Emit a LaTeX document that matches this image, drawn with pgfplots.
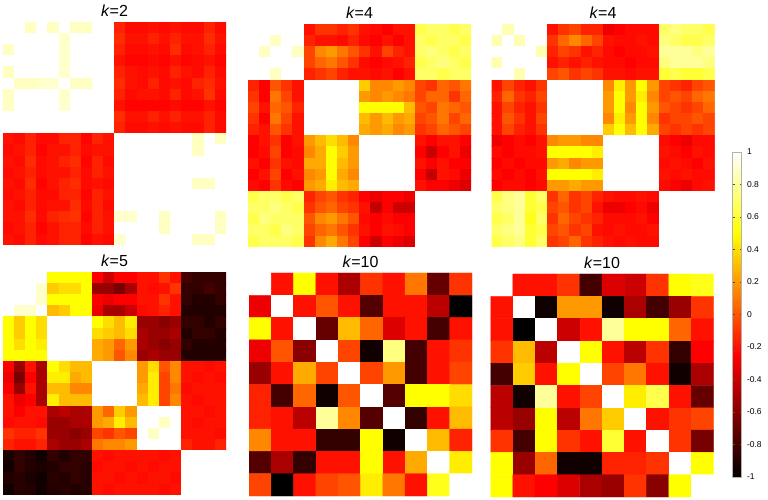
\documentclass[border=0pt]{standalone}
\usepackage{fontspec}
\setmainfont{Liberation Sans}
\usepackage{pgfplots}
\pgfplotsset{compat=1.18}
\pgfplotsset{
  colormap={hotm}{rgb255(0pt)=(0,0,0) rgb255(3pt)=(255,0,0) rgb255(6pt)=(255,255,0) rgb255(8pt)=(255,255,255)},
  hm/.style={hide axis, scale only axis, width=223pt, height=223pt, anchor=north west,
    y dir=reverse, colormap name=hotm, point meta min=-1, point meta max=1,
    title style={font=\fontsize{16}{18}\selectfont, at={(0.5,1)}, anchor=base, yshift=-1pt, inner sep=0pt}},
  hm20/.style={hm, xmin=-0.5, xmax=19.5, ymin=-0.5, ymax=19.5},
  hm10/.style={hm, xmin=-0.5, xmax=9.5, ymin=-0.5, ymax=9.5},
  m20/.style={matrix plot*, mesh/cols=20, point meta=explicit},
  m10/.style={matrix plot*, mesh/cols=10, point meta=explicit},
  table/t20/.style={row sep=\\, x expr={\coordindex-20*floor((\coordindex+0.5)/20)}, y expr={floor((\coordindex+0.5)/20)}, meta=c},
  table/t10/.style={row sep=\\, x expr={\coordindex-10*floor((\coordindex+0.5)/10)}, y expr={floor((\coordindex+0.5)/10)}, meta=c},
}
\begin{document}
\begin{tikzpicture}
\path[use as bounding box] (0,0) rectangle (768pt,500pt);
% ---------------- k=2
\begin{axis}[hm20, at={(3pt,478pt)}, title={\textit{k}=2}]
\addplot[m20] table[t20] {c\\
1\\ 1\\ 0.88\\ 1\\ 0.88\\ 1\\ 0.88\\ 0.88\\ 1\\ 1\\ -0.15\\ -0.22\\ -0.22\\ -0.2\\ -0.22\\ -0.2\\ -0.22\\ -0.22\\ -0.15\\ -0.22\\
1\\ 1\\ 1\\ 1\\ 1\\ 0.9\\ 1\\ 1\\ 1\\ 1\\ -0.12\\ -0.2\\ -0.2\\ -0.15\\ -0.2\\ -0.15\\ -0.2\\ -0.2\\ -0.12\\ -0.2\\
0.88\\ 1\\ 1\\ 1\\ 1\\ 0.9\\ 1\\ 1\\ 1\\ 1\\ -0.15\\ -0.22\\ -0.22\\ -0.2\\ -0.22\\ -0.12\\ -0.22\\ -0.2\\ -0.15\\ -0.22\\
1\\ 1\\ 1\\ 1\\ 1\\ 0.9\\ 1\\ 1\\ 1\\ 1\\ -0.2\\ -0.24\\ -0.24\\ -0.22\\ -0.24\\ -0.2\\ -0.24\\ -0.22\\ -0.2\\ -0.24\\
0.88\\ 1\\ 1\\ 1\\ 1\\ 0.9\\ 1\\ 1\\ 1\\ 1\\ -0.15\\ -0.2\\ -0.22\\ -0.2\\ -0.22\\ -0.15\\ -0.2\\ -0.22\\ -0.15\\ -0.22\\
1\\ 0.88\\ 0.88\\ 0.9\\ 0.9\\ 1\\ 0.88\\ 0.88\\ 1\\ 1\\ -0.12\\ -0.2\\ -0.22\\ -0.15\\ -0.22\\ -0.2\\ -0.22\\ -0.15\\ -0.12\\ -0.2\\
0.88\\ 1\\ 1\\ 1\\ 1\\ 0.9\\ 1\\ 1\\ 1\\ 1\\ -0.15\\ -0.22\\ -0.2\\ -0.2\\ -0.22\\ -0.15\\ -0.22\\ -0.2\\ -0.1\\ -0.22\\
0.88\\ 1\\ 1\\ 1\\ 1\\ 0.9\\ 1\\ 1\\ 1\\ 1\\ -0.2\\ -0.24\\ -0.24\\ -0.24\\ -0.24\\ -0.22\\ -0.24\\ -0.24\\ -0.2\\ -0.24\\
1\\ 1\\ 1\\ 1\\ 1\\ 1\\ 1\\ 1\\ 1\\ 1\\ -0.12\\ -0.2\\ -0.2\\ -0.15\\ -0.2\\ -0.15\\ -0.2\\ -0.2\\ -0.15\\ -0.22\\
1\\ 1\\ 1\\ 1\\ 1\\ 1\\ 1\\ 1\\ 1\\ 1\\ -0.15\\ -0.22\\ -0.22\\ -0.2\\ -0.22\\ -0.2\\ -0.22\\ -0.22\\ -0.15\\ -0.22\\
-0.2\\ -0.22\\ -0.15\\ -0.22\\ -0.22\\ -0.15\\ -0.15\\ -0.24\\ -0.15\\ -0.2\\ 1\\ 1\\ 1\\ 1\\ 1\\ 1\\ 1\\ 0.88\\ 1\\ 0.88\\
-0.22\\ -0.2\\ -0.15\\ -0.24\\ -0.2\\ -0.2\\ -0.15\\ -0.22\\ -0.2\\ -0.2\\ 1\\ 1\\ 1\\ 1\\ 1\\ 1\\ 1\\ 0.88\\ 1\\ 1\\
-0.2\\ -0.22\\ -0.12\\ -0.22\\ -0.2\\ -0.15\\ -0.12\\ -0.24\\ -0.15\\ -0.22\\ 1\\ 1\\ 1\\ 1\\ 1\\ 1\\ 1\\ 1\\ 1\\ 1\\
-0.22\\ -0.2\\ -0.15\\ -0.22\\ -0.2\\ -0.2\\ -0.15\\ -0.22\\ -0.15\\ -0.2\\ 1\\ 1\\ 1\\ 1\\ 1\\ 1\\ 1\\ 1\\ 1\\ 1\\
-0.2\\ -0.22\\ -0.12\\ -0.24\\ -0.2\\ -0.15\\ -0.12\\ -0.22\\ -0.2\\ -0.22\\ 1\\ 1\\ 1\\ 1\\ 1\\ 1\\ 1\\ 0.88\\ 0.88\\ 1\\
-0.22\\ -0.2\\ -0.15\\ -0.22\\ -0.22\\ -0.15\\ -0.15\\ -0.24\\ -0.15\\ -0.2\\ 1\\ 1\\ 1\\ 1\\ 1\\ 1\\ 1\\ 1\\ 1\\ 1\\
-0.2\\ -0.22\\ -0.15\\ -0.22\\ -0.2\\ -0.2\\ -0.12\\ -0.22\\ -0.15\\ -0.22\\ 1\\ 1\\ 1\\ 1\\ 1\\ 1\\ 1\\ 1\\ 1\\ 1\\
-0.2\\ -0.2\\ -0.12\\ -0.22\\ -0.15\\ -0.12\\ -0.1\\ -0.24\\ -0.15\\ -0.2\\ 0.9\\ 0.9\\ 1\\ 1\\ 0.88\\ 1\\ 1\\ 1\\ 1\\ 0.88\\
-0.22\\ -0.2\\ -0.15\\ -0.24\\ -0.2\\ -0.15\\ -0.15\\ -0.22\\ -0.15\\ -0.2\\ 1\\ 1\\ 1\\ 1\\ 0.88\\ 1\\ 1\\ 1\\ 1\\ 0.88\\
-0.2\\ -0.22\\ -0.15\\ -0.22\\ -0.2\\ -0.15\\ -0.15\\ -0.24\\ -0.2\\ -0.22\\ 0.9\\ 1\\ 1\\ 1\\ 1\\ 1\\ 1\\ 0.88\\ 0.88\\ 1\\
};
\end{axis}
% ---------------- k=4 (a)
\begin{axis}[hm20, at={(248pt,476pt)}, title={\textit{k}=4}]
\addplot[m20] table[t20] {c\\
1\\ 1\\ 1\\ 1\\ 1\\ -0.2\\ -0.1\\ -0.1\\ -0.15\\ -0.1\\ -0.2\\ -0.22\\ -0.25\\ -0.2\\ -0.2\\ 0.65\\ 0.7\\ 0.7\\ 0.65\\ 0.7\\
1\\ 1\\ 0.88\\ 1\\ 1\\ -0.15\\ -0.2\\ -0.2\\ -0.22\\ -0.15\\ -0.22\\ -0.25\\ -0.2\\ -0.25\\ -0.2\\ 0.7\\ 0.65\\ 0.7\\ 0.7\\ 0.65\\
1\\ 0.88\\ 1\\ 1\\ 0.88\\ -0.05\\ 0.15\\ 0.2\\ 0.1\\ 0\\ -0.1\\ -0.2\\ -0.05\\ -0.15\\ -0.2\\ 0.7\\ 0.75\\ 0.7\\ 0.65\\ 0.7\\
1\\ 1\\ 1\\ 1\\ 1\\ -0.05\\ 0.05\\ 0.1\\ 0\\ -0.1\\ -0.22\\ -0.25\\ -0.22\\ -0.2\\ -0.15\\ 0.65\\ 0.7\\ 0.75\\ 0.7\\ 0.65\\
1\\ 1\\ 0.88\\ 1\\ 1\\ -0.15\\ -0.1\\ -0.05\\ -0.15\\ -0.2\\ -0.2\\ -0.22\\ -0.2\\ -0.25\\ -0.2\\ 0.7\\ 0.7\\ 0.65\\ 0.7\\ 0.7\\
-0.15\\ -0.25\\ 0\\ -0.1\\ -0.2\\ 1\\ 1\\ 1\\ 1\\ 1\\ 0.35\\ 0.15\\ 0.15\\ 0.2\\ 0.15\\ -0.05\\ -0.1\\ 0.05\\ 0\\ 0.1\\
-0.1\\ -0.25\\ 0.1\\ -0.05\\ -0.2\\ 1\\ 1\\ 1\\ 1\\ 1\\ 0.2\\ 0.15\\ 0.2\\ 0.15\\ 0.1\\ -0.05\\ 0.05\\ 0.05\\ -0.1\\ 0.05\\
-0.05\\ -0.2\\ 0.05\\ 0\\ -0.15\\ 1\\ 1\\ 1\\ 1\\ 1\\ 0.5\\ 0.5\\ 0.5\\ 0.5\\ 0.3\\ 0\\ -0.05\\ 0.1\\ 0.05\\ 0\\
-0.1\\ -0.25\\ 0.1\\ -0.05\\ -0.2\\ 1\\ 1\\ 1\\ 1\\ 1\\ 0.3\\ 0.2\\ 0.3\\ 0.2\\ 0.25\\ -0.05\\ 0\\ 0.1\\ -0.05\\ 0.05\\
-0.15\\ -0.2\\ 0\\ -0.1\\ -0.2\\ 1\\ 1\\ 1\\ 1\\ 1\\ 0.25\\ 0.2\\ 0.25\\ 0.15\\ 0.2\\ -0.1\\ -0.05\\ 0.05\\ 0\\ -0.05\\
-0.25\\ -0.2\\ -0.1\\ -0.25\\ -0.2\\ 0.2\\ 0.3\\ 0.4\\ 0.3\\ 0.15\\ 1\\ 1\\ 1\\ 1\\ 1\\ -0.2\\ -0.25\\ -0.2\\ -0.2\\ -0.25\\
-0.25\\ -0.22\\ -0.05\\ -0.25\\ -0.22\\ 0.15\\ 0.25\\ 0.5\\ 0.35\\ 0.2\\ 1\\ 1\\ 1\\ 1\\ 1\\ -0.25\\ -0.4\\ -0.25\\ -0.2\\ -0.3\\
-0.2\\ -0.25\\ -0.1\\ -0.2\\ -0.22\\ 0.25\\ 0.25\\ 0.5\\ 0.3\\ 0.2\\ 1\\ 1\\ 1\\ 1\\ 1\\ -0.2\\ -0.25\\ -0.2\\ -0.25\\ -0.25\\
-0.25\\ -0.2\\ -0.05\\ -0.25\\ -0.2\\ 0.15\\ 0.2\\ 0.5\\ 0.25\\ 0.15\\ 1\\ 1\\ 1\\ 1\\ 1\\ -0.25\\ -0.42\\ -0.2\\ -0.22\\ -0.3\\
-0.22\\ -0.25\\ -0.1\\ -0.22\\ -0.25\\ 0.2\\ 0.25\\ 0.45\\ 0.3\\ 0.25\\ 1\\ 1\\ 1\\ 1\\ 1\\ -0.2\\ -0.25\\ -0.25\\ -0.3\\ -0.35\\
0.65\\ 0.7\\ 0.7\\ 0.65\\ 0.7\\ -0.15\\ -0.05\\ 0\\ -0.1\\ -0.15\\ -0.25\\ -0.3\\ -0.25\\ -0.25\\ -0.3\\ 1\\ 1\\ 1\\ 1\\ 1\\
0.7\\ 0.7\\ 0.75\\ 0.7\\ 0.65\\ -0.1\\ 0\\ 0.05\\ -0.05\\ -0.1\\ -0.2\\ -0.42\\ -0.25\\ -0.4\\ -0.4\\ 1\\ 1\\ 1\\ 1\\ 1\\
0.65\\ 0.75\\ 0.7\\ 0.7\\ 0.7\\ 0\\ 0.15\\ 0.2\\ 0.1\\ 0\\ -0.22\\ -0.25\\ -0.22\\ -0.25\\ -0.25\\ 1\\ 1\\ 1\\ 1\\ 1\\
0.7\\ 0.7\\ 0.65\\ 0.75\\ 0.7\\ -0.05\\ 0.05\\ 0.1\\ 0\\ -0.1\\ -0.2\\ -0.25\\ -0.2\\ -0.22\\ -0.25\\ 1\\ 1\\ 1\\ 1\\ 1\\
0.65\\ 0.7\\ 0.7\\ 0.7\\ 0.65\\ -0.1\\ 0.15\\ 0.25\\ 0.1\\ -0.05\\ -0.25\\ -0.4\\ -0.25\\ -0.3\\ -0.35\\ 1\\ 1\\ 1\\ 1\\ 1\\
};
\end{axis}
% ---------------- k=4 (b)
\begin{axis}[hm20, at={(491.5pt,476pt)}, title={\textit{k}=4},
  colorbar,
  colorbar style={at={(parent axis.north east)}, anchor=north west, xshift=9.5pt, yshift=-128pt,
    scale only axis, width=9pt, height=325pt,
    ytick={-1,-0.8,-0.6,-0.4,-0.2,0,0.2,0.4,0.6,0.8,1},
    yticklabel style={font=\fontsize{8.5}{9}\selectfont, /pgf/number format/assume math mode=true, xshift=2pt},
    axis line style={draw=gray!60}, tick align=inside, major tick length=2pt,
    ytick style={draw=gray!60!black}}]
\addplot[m20] table[t20] {c\\
1\\ 0.85\\ 1\\ 1\\ 1\\ -0.2\\ -0.1\\ -0.05\\ -0.15\\ -0.15\\ -0.3\\ -0.25\\ -0.22\\ -0.22\\ -0.22\\ 0.7\\ 0.75\\ 0.7\\ 0.7\\ 0.65\\
0.85\\ 1\\ 0.85\\ 1\\ 1\\ -0.1\\ 0.05\\ 0.15\\ 0.05\\ -0.05\\ -0.2\\ -0.22\\ -0.22\\ -0.2\\ -0.22\\ 0.75\\ 0.7\\ 0.65\\ 0.65\\ 0.7\\
1\\ 1\\ 1\\ 1\\ 0.85\\ -0.15\\ -0.05\\ -0.1\\ -0.2\\ -0.15\\ -0.22\\ -0.25\\ -0.22\\ -0.22\\ -0.2\\ 0.8\\ 0.8\\ 0.8\\ 0.75\\ 0.8\\
0.85\\ 1\\ 1\\ 1\\ 1\\ -0.2\\ -0.15\\ -0.2\\ -0.15\\ -0.2\\ -0.22\\ -0.22\\ -0.25\\ -0.22\\ -0.22\\ 0.75\\ 0.8\\ 0.8\\ 0.8\\ 0.75\\
1\\ 1\\ 0.85\\ 1\\ 1\\ -0.05\\ 0\\ -0.1\\ -0.05\\ -0.1\\ -0.2\\ -0.2\\ -0.22\\ -0.2\\ -0.2\\ 0.6\\ 0.65\\ 0.6\\ 0.6\\ 0.65\\
-0.2\\ -0.05\\ -0.15\\ -0.2\\ -0.1\\ 1\\ 1\\ 1\\ 1\\ 1\\ 0.15\\ 0.45\\ 0.2\\ 0.5\\ 0.2\\ -0.05\\ -0.1\\ -0.15\\ -0.05\\ 0\\
-0.15\\ 0.05\\ -0.1\\ -0.15\\ -0.05\\ 1\\ 1\\ 1\\ 1\\ 1\\ 0.2\\ 0.5\\ 0.2\\ 0.45\\ 0.15\\ -0.05\\ 0\\ -0.05\\ 0.05\\ 0.1\\
-0.2\\ -0.05\\ -0.15\\ -0.2\\ -0.1\\ 1\\ 1\\ 1\\ 1\\ 1\\ 0.2\\ 0.5\\ 0.15\\ 0.5\\ 0.2\\ 0\\ -0.05\\ -0.1\\ -0.05\\ 0.05\\
-0.2\\ 0\\ -0.1\\ -0.2\\ -0.05\\ 1\\ 1\\ 1\\ 1\\ 1\\ 0.15\\ 0.45\\ 0.2\\ 0.5\\ 0.15\\ -0.1\\ -0.05\\ -0.05\\ 0\\ -0.05\\
-0.2\\ -0.05\\ -0.15\\ -0.2\\ -0.1\\ 1\\ 1\\ 1\\ 1\\ 1\\ 0.35\\ 0.5\\ 0.3\\ 0.5\\ 0.25\\ -0.05\\ -0.1\\ -0.05\\ -0.1\\ -0.05\\
-0.3\\ -0.25\\ -0.22\\ -0.25\\ -0.2\\ 0.15\\ 0.2\\ 0.2\\ 0.15\\ 0.15\\ 1\\ 1\\ 1\\ 1\\ 1\\ -0.22\\ -0.25\\ -0.3\\ -0.22\\ -0.22\\
-0.22\\ -0.25\\ -0.22\\ -0.22\\ -0.2\\ 0.5\\ 0.5\\ 0.5\\ 0.5\\ 0.45\\ 1\\ 1\\ 1\\ 1\\ 1\\ -0.2\\ -0.22\\ -0.25\\ -0.2\\ -0.22\\
-0.25\\ -0.22\\ -0.25\\ -0.22\\ -0.22\\ 0.2\\ 0.25\\ 0.15\\ 0.2\\ 0.2\\ 1\\ 1\\ 1\\ 1\\ 1\\ -0.22\\ -0.2\\ -0.22\\ -0.25\\ -0.2\\
-0.22\\ -0.25\\ -0.22\\ -0.25\\ -0.2\\ 0.5\\ 0.5\\ 0.5\\ 0.5\\ 0.45\\ 1\\ 1\\ 1\\ 1\\ 1\\ -0.2\\ -0.22\\ -0.2\\ -0.22\\ -0.22\\
-0.25\\ -0.22\\ -0.22\\ -0.25\\ -0.22\\ 0.2\\ 0.2\\ 0.25\\ 0.2\\ 0.2\\ 1\\ 1\\ 1\\ 1\\ 1\\ -0.22\\ -0.25\\ -0.3\\ -0.22\\ -0.2\\
0.65\\ 0.75\\ 0.8\\ 0.6\\ 0.7\\ -0.1\\ 0.05\\ -0.1\\ -0.05\\ -0.15\\ -0.2\\ -0.22\\ -0.22\\ -0.2\\ -0.22\\ 1\\ 1\\ 1\\ 1\\ 1\\
0.7\\ 0.75\\ 0.8\\ 0.6\\ 0.65\\ -0.05\\ 0\\ -0.1\\ -0.05\\ -0.2\\ -0.3\\ -0.3\\ -0.25\\ -0.22\\ -0.3\\ 1\\ 1\\ 1\\ 1\\ 1\\
0.65\\ 0.7\\ 0.8\\ 0.55\\ 0.7\\ -0.1\\ 0.05\\ -0.05\\ -0.1\\ -0.15\\ -0.22\\ -0.22\\ -0.22\\ -0.2\\ -0.25\\ 1\\ 1\\ 1\\ 1\\ 1\\
0.7\\ 0.75\\ 0.8\\ 0.6\\ 0.65\\ -0.05\\ 0\\ -0.1\\ -0.05\\ -0.2\\ -0.22\\ -0.2\\ -0.22\\ -0.22\\ -0.2\\ 1\\ 1\\ 1\\ 1\\ 1\\
0.65\\ 0.7\\ 0.75\\ 0.6\\ 0.7\\ -0.1\\ -0.05\\ 0.05\\ -0.1\\ -0.15\\ -0.2\\ -0.22\\ -0.2\\ -0.22\\ -0.22\\ 1\\ 1\\ 1\\ 1\\ 1\\
};
\end{axis}
% ---------------- k=5
\begin{axis}[hm20, at={(3pt,228pt)}, title={\textit{k}=5}]
\addplot[m20] table[t20] {c\\
1\\ 1\\ 1\\ 1\\ 0.5\\ 0.5\\ 0.5\\ 0.5\\ -0.25\\ -0.4\\ -0.25\\ -0.25\\ -0.2\\ -0.2\\ -0.1\\ -0.2\\ -0.8\\ -0.85\\ -0.85\\ -0.85\\
1\\ 1\\ 1\\ 0.9\\ 0.35\\ 0.4\\ 0.4\\ 0.5\\ -0.55\\ -0.55\\ -0.65\\ -0.5\\ -0.2\\ -0.22\\ -0.2\\ -0.1\\ -0.85\\ -0.85\\ -0.8\\ -0.85\\
1\\ 1\\ 1\\ 0.9\\ 0.5\\ 0.5\\ 0.5\\ 0.5\\ -0.25\\ -0.3\\ -0.25\\ -0.25\\ -0.2\\ -0.2\\ -0.1\\ -0.2\\ -0.85\\ -0.9\\ -0.9\\ -0.85\\
1\\ 0.9\\ 0.9\\ 1\\ 0.3\\ 0.35\\ 0.5\\ 0.5\\ -0.3\\ -0.5\\ -0.5\\ -0.4\\ -0.22\\ -0.2\\ -0.15\\ -0.2\\ -0.9\\ -0.9\\ -0.9\\ -0.9\\
0.5\\ 0.35\\ 0.5\\ 0.4\\ 1\\ 1\\ 1\\ 1\\ 0.5\\ 0.4\\ 0.3\\ 0.45\\ -0.55\\ -0.55\\ -0.6\\ -0.55\\ -0.85\\ -0.85\\ -0.9\\ -0.85\\
0.5\\ 0.35\\ 0.5\\ 0.4\\ 1\\ 1\\ 1\\ 1\\ 0.4\\ 0.35\\ 0.3\\ 0.4\\ -0.5\\ -0.55\\ -0.55\\ -0.5\\ -0.9\\ -0.85\\ -0.85\\ -0.9\\
0.5\\ 0.4\\ 0.5\\ 0.45\\ 1\\ 1\\ 1\\ 1\\ 0.25\\ 0.2\\ 0.05\\ 0.2\\ -0.5\\ -0.55\\ -0.6\\ -0.55\\ -0.85\\ -0.9\\ -0.9\\ -0.9\\
0.5\\ 0.5\\ 0.5\\ 0.5\\ 1\\ 1\\ 1\\ 1\\ 0.25\\ 0.2\\ 0\\ 0.15\\ -0.55\\ -0.5\\ -0.55\\ -0.55\\ -0.9\\ -0.9\\ -0.9\\ -0.9\\
-0.25\\ -0.55\\ -0.2\\ -0.5\\ 0.5\\ 0.4\\ 0.3\\ 0.3\\ 1\\ 1\\ 1\\ 1\\ 0.2\\ 0.4\\ 0\\ 0.15\\ -0.2\\ -0.2\\ -0.22\\ -0.2\\
-0.3\\ -0.65\\ -0.25\\ -0.5\\ 0.45\\ 0.45\\ 0.25\\ 0.3\\ 1\\ 1\\ 1\\ 1\\ 0.2\\ 0.45\\ -0.05\\ 0.15\\ -0.2\\ -0.22\\ -0.2\\ -0.22\\
-0.25\\ -0.55\\ -0.2\\ -0.5\\ 0.3\\ 0.3\\ 0.15\\ 0.15\\ 1\\ 1\\ 1\\ 1\\ 0.25\\ 0.45\\ -0.05\\ 0.1\\ -0.22\\ -0.2\\ -0.2\\ -0.2\\
-0.2\\ -0.3\\ -0.25\\ -0.5\\ 0.45\\ 0.3\\ 0.3\\ 0.3\\ 1\\ 1\\ 1\\ 1\\ 0.3\\ 0.45\\ -0.05\\ 0.15\\ -0.2\\ -0.22\\ -0.2\\ -0.2\\
-0.2\\ -0.25\\ -0.2\\ -0.2\\ -0.5\\ -0.45\\ -0.5\\ -0.5\\ 0.2\\ 0.05\\ 0.35\\ 0.2\\ 1\\ 1\\ 1\\ 1\\ -0.2\\ -0.2\\ -0.22\\ -0.2\\
-0.22\\ -0.2\\ -0.2\\ -0.22\\ -0.55\\ -0.55\\ -0.5\\ -0.5\\ 0.2\\ 0.25\\ 0.45\\ 0.3\\ 1\\ 1\\ 0.88\\ 1\\ -0.2\\ -0.22\\ -0.2\\ -0.2\\
-0.1\\ -0.15\\ -0.15\\ -0.1\\ -0.55\\ -0.55\\ -0.6\\ -0.55\\ -0.05\\ -0.1\\ 0\\ -0.05\\ 1\\ 0.88\\ 1\\ 1\\ -0.2\\ -0.2\\ -0.2\\ -0.22\\
-0.15\\ -0.2\\ -0.2\\ -0.15\\ -0.5\\ -0.55\\ -0.55\\ -0.5\\ 0.1\\ 0.15\\ 0.15\\ 0.2\\ 1\\ 1\\ 1\\ 1\\ -0.15\\ -0.2\\ -0.2\\ -0.15\\
-0.92\\ -0.85\\ -0.9\\ -0.95\\ -0.85\\ -0.9\\ -0.85\\ -0.85\\ -0.2\\ -0.22\\ -0.2\\ -0.2\\ -0.2\\ -0.2\\ -0.22\\ -0.2\\ 1\\ 1\\ 1\\ 1\\
-0.95\\ -0.85\\ -0.9\\ -0.92\\ -0.9\\ -0.85\\ -0.85\\ -0.88\\ -0.22\\ -0.2\\ -0.2\\ -0.22\\ -0.2\\ -0.22\\ -0.2\\ -0.2\\ 1\\ 1\\ 1\\ 1\\
-0.9\\ -0.88\\ -0.92\\ -0.95\\ -0.88\\ -0.9\\ -0.85\\ -0.88\\ -0.2\\ -0.2\\ -0.22\\ -0.2\\ -0.22\\ -0.2\\ -0.2\\ -0.22\\ 1\\ 1\\ 1\\ 1\\
-0.95\\ -0.88\\ -0.9\\ -0.95\\ -0.9\\ -0.88\\ -0.9\\ -0.88\\ -0.2\\ -0.22\\ -0.2\\ -0.2\\ -0.2\\ -0.2\\ -0.22\\ -0.2\\ 1\\ 1\\ 1\\ 1\\
};
\end{axis}
% ---------------- k=10 (a)
\begin{axis}[hm10, at={(249pt,227pt)}, title={\textit{k}=10}]
\addplot[m10] table[t10] {c\\
1\\ -0.2\\ 0.5\\ -0.2\\ -0.5\\ -0.1\\ -0.2\\ 0.1\\ -0.7\\ -0.1\\
-0.3\\ 1\\ -0.2\\ 0\\ -0.2\\ -0.75\\ -0.2\\ -0.2\\ -0.45\\ -1\\
0.5\\ -0.2\\ 1\\ -0.7\\ 0.3\\ 0.05\\ -0.35\\ -0.2\\ -0.8\\ -0.2\\
-0.3\\ 0\\ -0.6\\ 1\\ -0.05\\ -0.95\\ 0.75\\ -0.8\\ -0.2\\ -0.1\\
-0.55\\ -0.2\\ 0.25\\ -0.05\\ 1\\ -0.05\\ 0.2\\ -0.8\\ -0.2\\ -0.05\\
-0.15\\ -0.8\\ 0.05\\ -0.95\\ 0\\ 1\\ -0.75\\ 0.5\\ 0.5\\ 0.4\\
-0.15\\ -0.2\\ -0.45\\ 0.8\\ 0.15\\ -0.75\\ 1\\ -0.85\\ -0.2\\ 0.3\\
0.15\\ -0.2\\ -0.2\\ -0.85\\ -0.85\\ 0.5\\ -0.95\\ 1\\ 0.3\\ -0.15\\
-0.75\\ -0.5\\ -0.85\\ -0.2\\ -0.2\\ 0.5\\ -0.2\\ 0.25\\ 1\\ 0.45\\
-0.05\\ -1\\ -0.2\\ -0.05\\ 0\\ 0.45\\ 0.1\\ -0.2\\ 0.55\\ 1\\
};
\end{axis}
% ---------------- k=10 (b)
\begin{axis}[hm10, at={(490.5pt,226pt)}, title={\textit{k}=10}]
\addplot[m10] table[t10] {c\\
1\\ -0.2\\ -0.2\\ -0.1\\ -0.8\\ -0.35\\ -0.4\\ -0.1\\ 0.5\\ 0.55\\
-0.2\\ 1\\ -0.95\\ 0.2\\ 0.2\\ -0.95\\ -0.5\\ -0.8\\ -0.55\\ -0.1\\
-0.2\\ -1\\ 1\\ -0.4\\ -0.2\\ 0.8\\ 0.5\\ 0.5\\ 0.05\\ -0.2\\
-0.1\\ 0.3\\ -0.45\\ 1\\ 0.5\\ -0.2\\ -0.45\\ -0.1\\ -0.85\\ -0.25\\
-0.8\\ 0.35\\ -0.2\\ 0.5\\ 1\\ -0.05\\ 0.1\\ -0.2\\ -0.95\\ -0.5\\
-0.45\\ -0.95\\ 0.8\\ -0.2\\ -0.05\\ 1\\ 0.45\\ 0.65\\ -0.2\\ -0.7\\
-0.45\\ -0.55\\ 0.5\\ -0.45\\ 0.1\\ 0.35\\ 1\\ -0.2\\ -0.1\\ -0.05\\
-0.1\\ -0.8\\ 0.5\\ -0.1\\ -0.2\\ 0.6\\ -0.2\\ 1\\ -0.1\\ -0.65\\
0.5\\ -0.55\\ 0.05\\ -0.95\\ -0.95\\ -0.15\\ -0.15\\ -0.1\\ 1\\ 0.5\\
0.5\\ -0.2\\ -0.25\\ -0.35\\ -0.5\\ -0.55\\ -0.1\\ -0.6\\ 0.5\\ 1\\
};
\end{axis}
\end{tikzpicture}
\end{document}
